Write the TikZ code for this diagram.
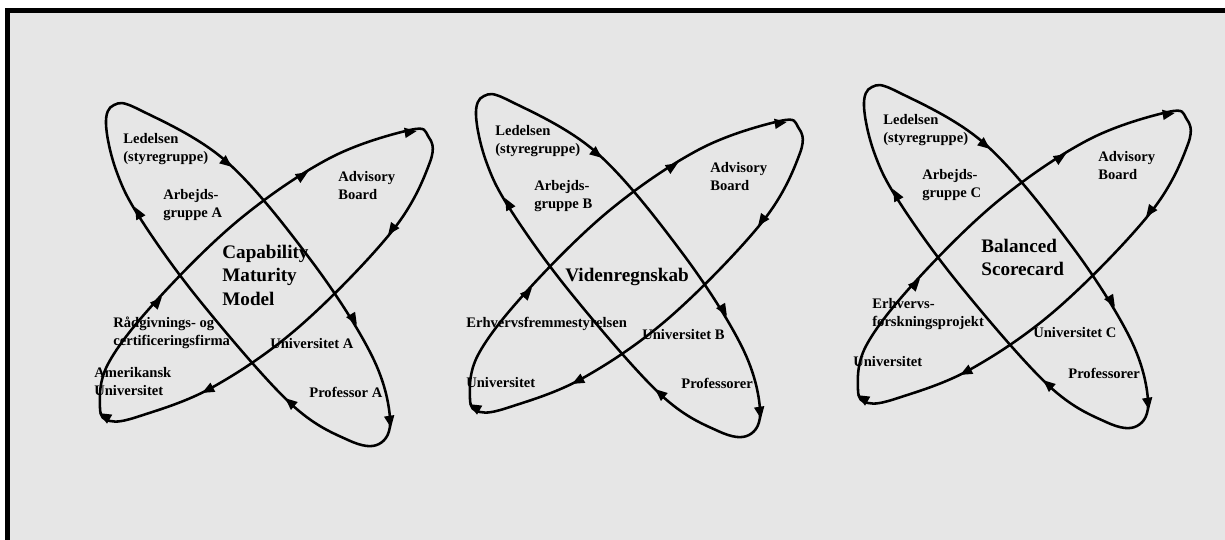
\documentclass[tikz,border=0pt]{standalone}
\usepackage{fontspec}
\setmainfont{Liberation Serif}
\usetikzlibrary{arrows.meta}
\definecolor{panel}{RGB}{230,230,230}
\newcommand\drawOrbits{%
  \draw[orbit] plot[smooth cycle, tension=0.6] coordinates {
    (106,124) (114,105) (140,110) (227,162) (313,263) (372,356) (390,418) (379,444)
    (348,440) (290,403) (200,301) (140,218) (116,170)};
  \draw[orbit] plot[smooth cycle, tension=0.6] coordinates {
    (100,408) (108,364) (157,300) (240,219) (330,158) (410,130) (428,136) (430,162)
    (393,230) (300,326) (213,387) (140,416) (110,421)};
  \coordinate (a1t) at (222.6,159.4); \coordinate (a1h) at (232,167);
  \coordinate (a2t) at (350.8,314.8); \coordinate (a2h) at (357,325);
  \coordinate (a3t) at (389.2,416.1); \coordinate (a3h) at (391,428);
  \coordinate (a4t) at (294.1,405.8); \coordinate (a4h) at (285,398);
  \coordinate (a5t) at (140.8,217.6); \coordinate (a5h) at (135,207);
  \coordinate (b1t) at (154,305.9);   \coordinate (b1h) at (162,297);
  \coordinate (b2t) at (297.8,178.4); \coordinate (b2h) at (308,172);
  \coordinate (b3t) at (405.2,132.8); \coordinate (b3h) at (417,131);
  \coordinate (b4t) at (395.1,225.3); \coordinate (b4h) at (388,235);
  \coordinate (b5t) at (212.6,387.4); \coordinate (b5h) at (202,393);
  \coordinate (b6t) at (109.4,419);   \coordinate (b6h) at (99,413);
  \foreach \p in {a1,a2,a3,a4,a5,b1,b2,b3,b4,b5,b6}{\draw[tip] (\p t) -- (\p h);}
}
\begin{document}
\begin{tikzpicture}[x=0.02cm,y=-0.02cm,
  orbit/.style={line width=1.45pt, black},
  tip/.style={line width=1.45pt, -{Triangle[length=7pt,width=5.5pt]}},
  lbl/.style={font=\bfseries\fontsize{8.3}{10}\selectfont, align=left, inner sep=0pt, anchor=north west},
  big/.style={font=\bfseries\fontsize{10.9}{13.2}\selectfont, align=left, inner sep=0pt, anchor=north west}]
\useasboundingbox (0,0) rectangle (1225,540);
\clip (0,0) rectangle (1225,540);
\fill[white] (0,0) rectangle (1225,540);
\draw[line width=2.83pt, fill=panel] (7.5,10.5) rectangle (1260,580);

\begin{scope}\drawOrbits\end{scope}
\begin{scope}[shift={(370,-9)}]\drawOrbits\end{scope}
\begin{scope}[shift={(758,-18)}]\drawOrbits\end{scope}

\node[lbl] (g1lead) at (123,133) {Ledelsen\\(styregruppe)};
\node[lbl] (g1arb) at (163,189) {Arbejds-\\gruppe A};
\node[lbl] (g1adv) at (338,171) {Advisory\\Board};
\node[big] (g1cmm) at (222,245) {Capability\\Maturity\\Model};
\node[lbl] (g1raad) at (113,317) {Rådgivnings- og\\certificeringsfirma};
\node[lbl] (g1uni) at (270,338) {Universitet A};
\node[lbl] (g1amer) at (94,367) {Amerikansk\\Universitet};
\node[lbl] (g1prof) at (309,387) {Professor A};

\node[lbl] (g2lead) at (495,125) {Ledelsen\\(styregruppe)};
\node[lbl] (g2arb) at (534,180) {Arbejds-\\gruppe B};
\node[lbl] (g2adv) at (710,162) {Advisory\\Board};
\node[big] (g2vr) at (565,268) {Videnregnskab};
\node[lbl] (g2erh) at (466,317) {Erhvervsfremmestyrelsen};
\node[lbl] (g2uni) at (642,329) {Universitet B};
\node[lbl] (g2univ) at (466,377) {Universitet};
\node[lbl] (g2prof) at (681,378) {Professorer};

\node[lbl] (g3lead) at (883,114) {Ledelsen\\(styregruppe)};
\node[lbl] (g3arb) at (922,169) {Arbejds-\\gruppe C};
\node[lbl] (g3adv) at (1098,151) {Advisory\\Board};
\node[big] (g3bsc) at (981,239) {Balanced\\Scorecard};
\node[lbl] (g3erh) at (872,298) {Erhvervs-\\forskningsprojekt};
\node[lbl] (g3uni) at (1033,327) {Universitet C};
\node[lbl] (g3univ) at (853,356) {Universitet};
\node[lbl] (g3prof) at (1068,368) {Professorer};
\end{tikzpicture}
\end{document}
